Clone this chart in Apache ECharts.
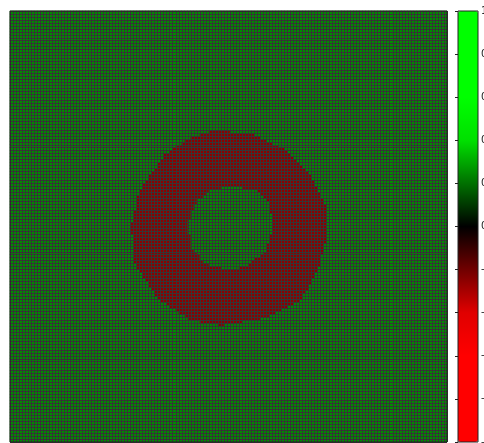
<!DOCTYPE html>
<html>
<head>
<meta charset="utf-8">
<script src="https://cdn.jsdelivr.net/npm/echarts@6/dist/echarts.min.js"></script>
<style>
  html, body { margin: 0; padding: 0; background: #fff; }
  #main { width: 484px; height: 443px; }
</style>
</head>
<body>
<div id="main"></div>
<script>
// mesh size (cells per side)
const gridSize = 145;

// field values
const backgroundValue = 0.25;
const ringValue = -0.25;

// ring outline, fractions of plot width / height (y from bottom)
const outerX = [0.469, 0.549, 0.629, 0.686, 0.721, 0.725, 0.705, 0.664, 0.584, 0.481, 0.412, 0.343, 0.286, 0.277, 0.297, 0.355, 0.412];
const outerY = [0.724, 0.717, 0.677, 0.619, 0.550, 0.480, 0.399, 0.329, 0.288, 0.271, 0.283, 0.329, 0.411, 0.503, 0.585, 0.666, 0.708];
const innerX = [0.503, 0.561, 0.590, 0.604, 0.584, 0.545, 0.499, 0.446, 0.414, 0.407, 0.428, 0.458];
const innerY = [0.594, 0.585, 0.555, 0.503, 0.445, 0.408, 0.399, 0.413, 0.452, 0.510, 0.561, 0.585];

// colour bar
const barMin = -1;
const barMax = 1;
const barStep = 0.2;
// one colour per bar tick, from -1 up to 1
const barColors = ['#ff0000', '#ff0000', '#ff0000', '#e00000', '#700000', '#000000',
  '#007000', '#00e000', '#00ff00', '#00ff00', '#00ff00'];

function inside(px, py, xs, ys) {
  let c = false;
  for (let i = 0, j = xs.length - 1; i < xs.length; j = i++) {
    if ((ys[i] > py) !== (ys[j] > py) &&
        px < (xs[j] - xs[i]) * (py - ys[i]) / (ys[j] - ys[i]) + xs[i]) {
      c = !c;
    }
  }
  return c;
}

const cats = [];
for (let i = 0; i < gridSize; i++) cats.push(i);

const cells = [];
for (let i = 0; i < gridSize; i++) {
  for (let j = 0; j < gridSize; j++) {
    const fx = (i + 0.5) / gridSize;
    const fy = (j + 0.5) / gridSize;
    const onRing = inside(fx, fy, outerX, outerY) && !inside(fx, fy, innerX, innerY);
    cells.push([i, j, onRing ? ringValue : backgroundValue]);
  }
}

const meshLine = { show: true, interval: 0, lineStyle: { color: '#353535', width: 1 } };

const chart = echarts.init(document.getElementById('main'), null, { renderer: 'canvas' });

chart.setOption({
  animation: false,
  backgroundColor: '#fff',
  grid: [
    { left: 10, top: 11, width: 437, height: 431, show: true, borderColor: '#222', borderWidth: 1, z: 10, outerBoundsMode: 'none', containLabel: false },
    { left: 458, top: 11, width: 20, height: 431, show: true, borderColor: '#222', borderWidth: 1, z: 10, outerBoundsMode: 'none', containLabel: false }
  ],
  xAxis: [
    { type: 'category', data: cats, gridIndex: 0, z: 5, axisLine: { show: false }, axisTick: { show: false }, axisLabel: { show: false }, splitLine: meshLine },
    { type: 'value', gridIndex: 1, show: false, min: 0, max: 1 }
  ],
  yAxis: [
    { type: 'category', data: cats, gridIndex: 0, z: 5, axisLine: { show: false }, axisTick: { show: false }, axisLabel: { show: false }, splitLine: meshLine },
    {
      type: 'value', gridIndex: 1, position: 'right', min: barMin, max: barMax, interval: barStep, z: 12,
      axisLine: { show: false },
      splitLine: { show: false },
      axisTick: { show: true, inside: true, length: 3, lineStyle: { color: '#222' } },
      axisLabel: {
        margin: 3, color: '#222', fontSize: 10, fontFamily: 'DejaVu Sans',
        formatter: v => v.toFixed(1)
      }
    }
  ],
  visualMap: {
    type: 'continuous',
    seriesIndex: 0,
    min: barMin,
    max: barMax,
    calculable: false,
    text: null,
    showLabel: false,
    left: 458,
    top: 11,
    padding: 0,
    itemWidth: 20,
    itemHeight: 431,
    inRange: { color: barColors }
  },
  series: [{
    type: 'heatmap',
    xAxisIndex: 0,
    yAxisIndex: 0,
    data: cells,
    progressive: 0,
    z: 2,
    emphasis: { disabled: true }
  }]
});
</script>
</body>
</html>
